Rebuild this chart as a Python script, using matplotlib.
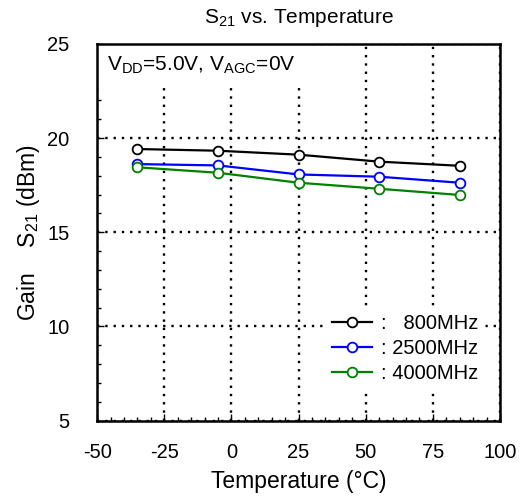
import numpy as np
import matplotlib
matplotlib.use("Agg")
import matplotlib.pyplot as plt
from matplotlib.ticker import MultipleLocator

plt.rcParams['font.family'] = ['Liberation Sans', 'DejaVu Sans']
plt.rcParams['mathtext.default'] = 'regular'
plt.rcParams['axes.unicode_minus'] = False

temp = [-35, -5, 25, 55, 85]
s21_800 = [19.42, 19.33, 19.12, 18.75, 18.53]
s21_2500 = [18.62, 18.55, 18.07, 17.95, 17.63]
s21_4000 = [18.45, 18.16, 17.63, 17.31, 16.98]

labels = [':   800MHz', ': 2500MHz', ': 4000MHz']
colors = ['black', 'blue', 'green']

fig = plt.figure(figsize=(5.22, 4.99), dpi=100)
ax = fig.add_axes([0.186, 0.157, 0.772, 0.755])

for ys, lab, c in zip([s21_800, s21_2500, s21_4000], labels, colors):
    ax.plot(temp, ys, color=c, lw=1.6, marker='o', ms=7, mfc='white',
            mec=c, mew=1.3, label=lab, zorder=3)

ax.set_xlim(-50, 100)
ax.set_ylim(5, 25)
ax.xaxis.set_major_locator(MultipleLocator(25))
ax.xaxis.set_minor_locator(MultipleLocator(5))
ax.yaxis.set_major_locator(MultipleLocator(5))
ax.yaxis.set_minor_locator(MultipleLocator(1))
ax.tick_params(which='both', direction='in', labelsize=14.5, pad=16)
ax.tick_params(which='major', length=5, width=1)
ax.tick_params(which='minor', length=3, width=1)
ax.tick_params(axis='y', which='both', pad=20)
for sp in ax.spines.values():
    sp.set_linewidth(1.8)
    sp.set_zorder(6)

ax.grid(True, which='major', color='black', linestyle=(0, (1, 2.5)), lw=1.7)

ax.set_title('S$_{21}$ vs. Temperature', fontsize=15, pad=15)
ax.set_xlabel('Temperature (°C)', fontsize=16.5, labelpad=6)
ax.set_ylabel('Gain    S$_{21}$ (dBm)', fontsize=16.5, labelpad=4)

ax.text(-46.3, 23.85, 'V$_{DD}$=5.0V, V$_{AGC}$=0V', fontsize=15, va='center',
        ha='left', zorder=4,
        bbox=dict(facecolor='white', edgecolor='none', pad=8))

leg = ax.legend(loc='lower right', bbox_to_anchor=(0.985, 0.058), fontsize=14.5,
                frameon=True, framealpha=1, edgecolor='white', fancybox=False,
                handlelength=2.0, handletextpad=0.4, labelspacing=0.3,
                borderpad=0.3)
leg.set_zorder(5)

fig.savefig('out.png', dpi=100)
